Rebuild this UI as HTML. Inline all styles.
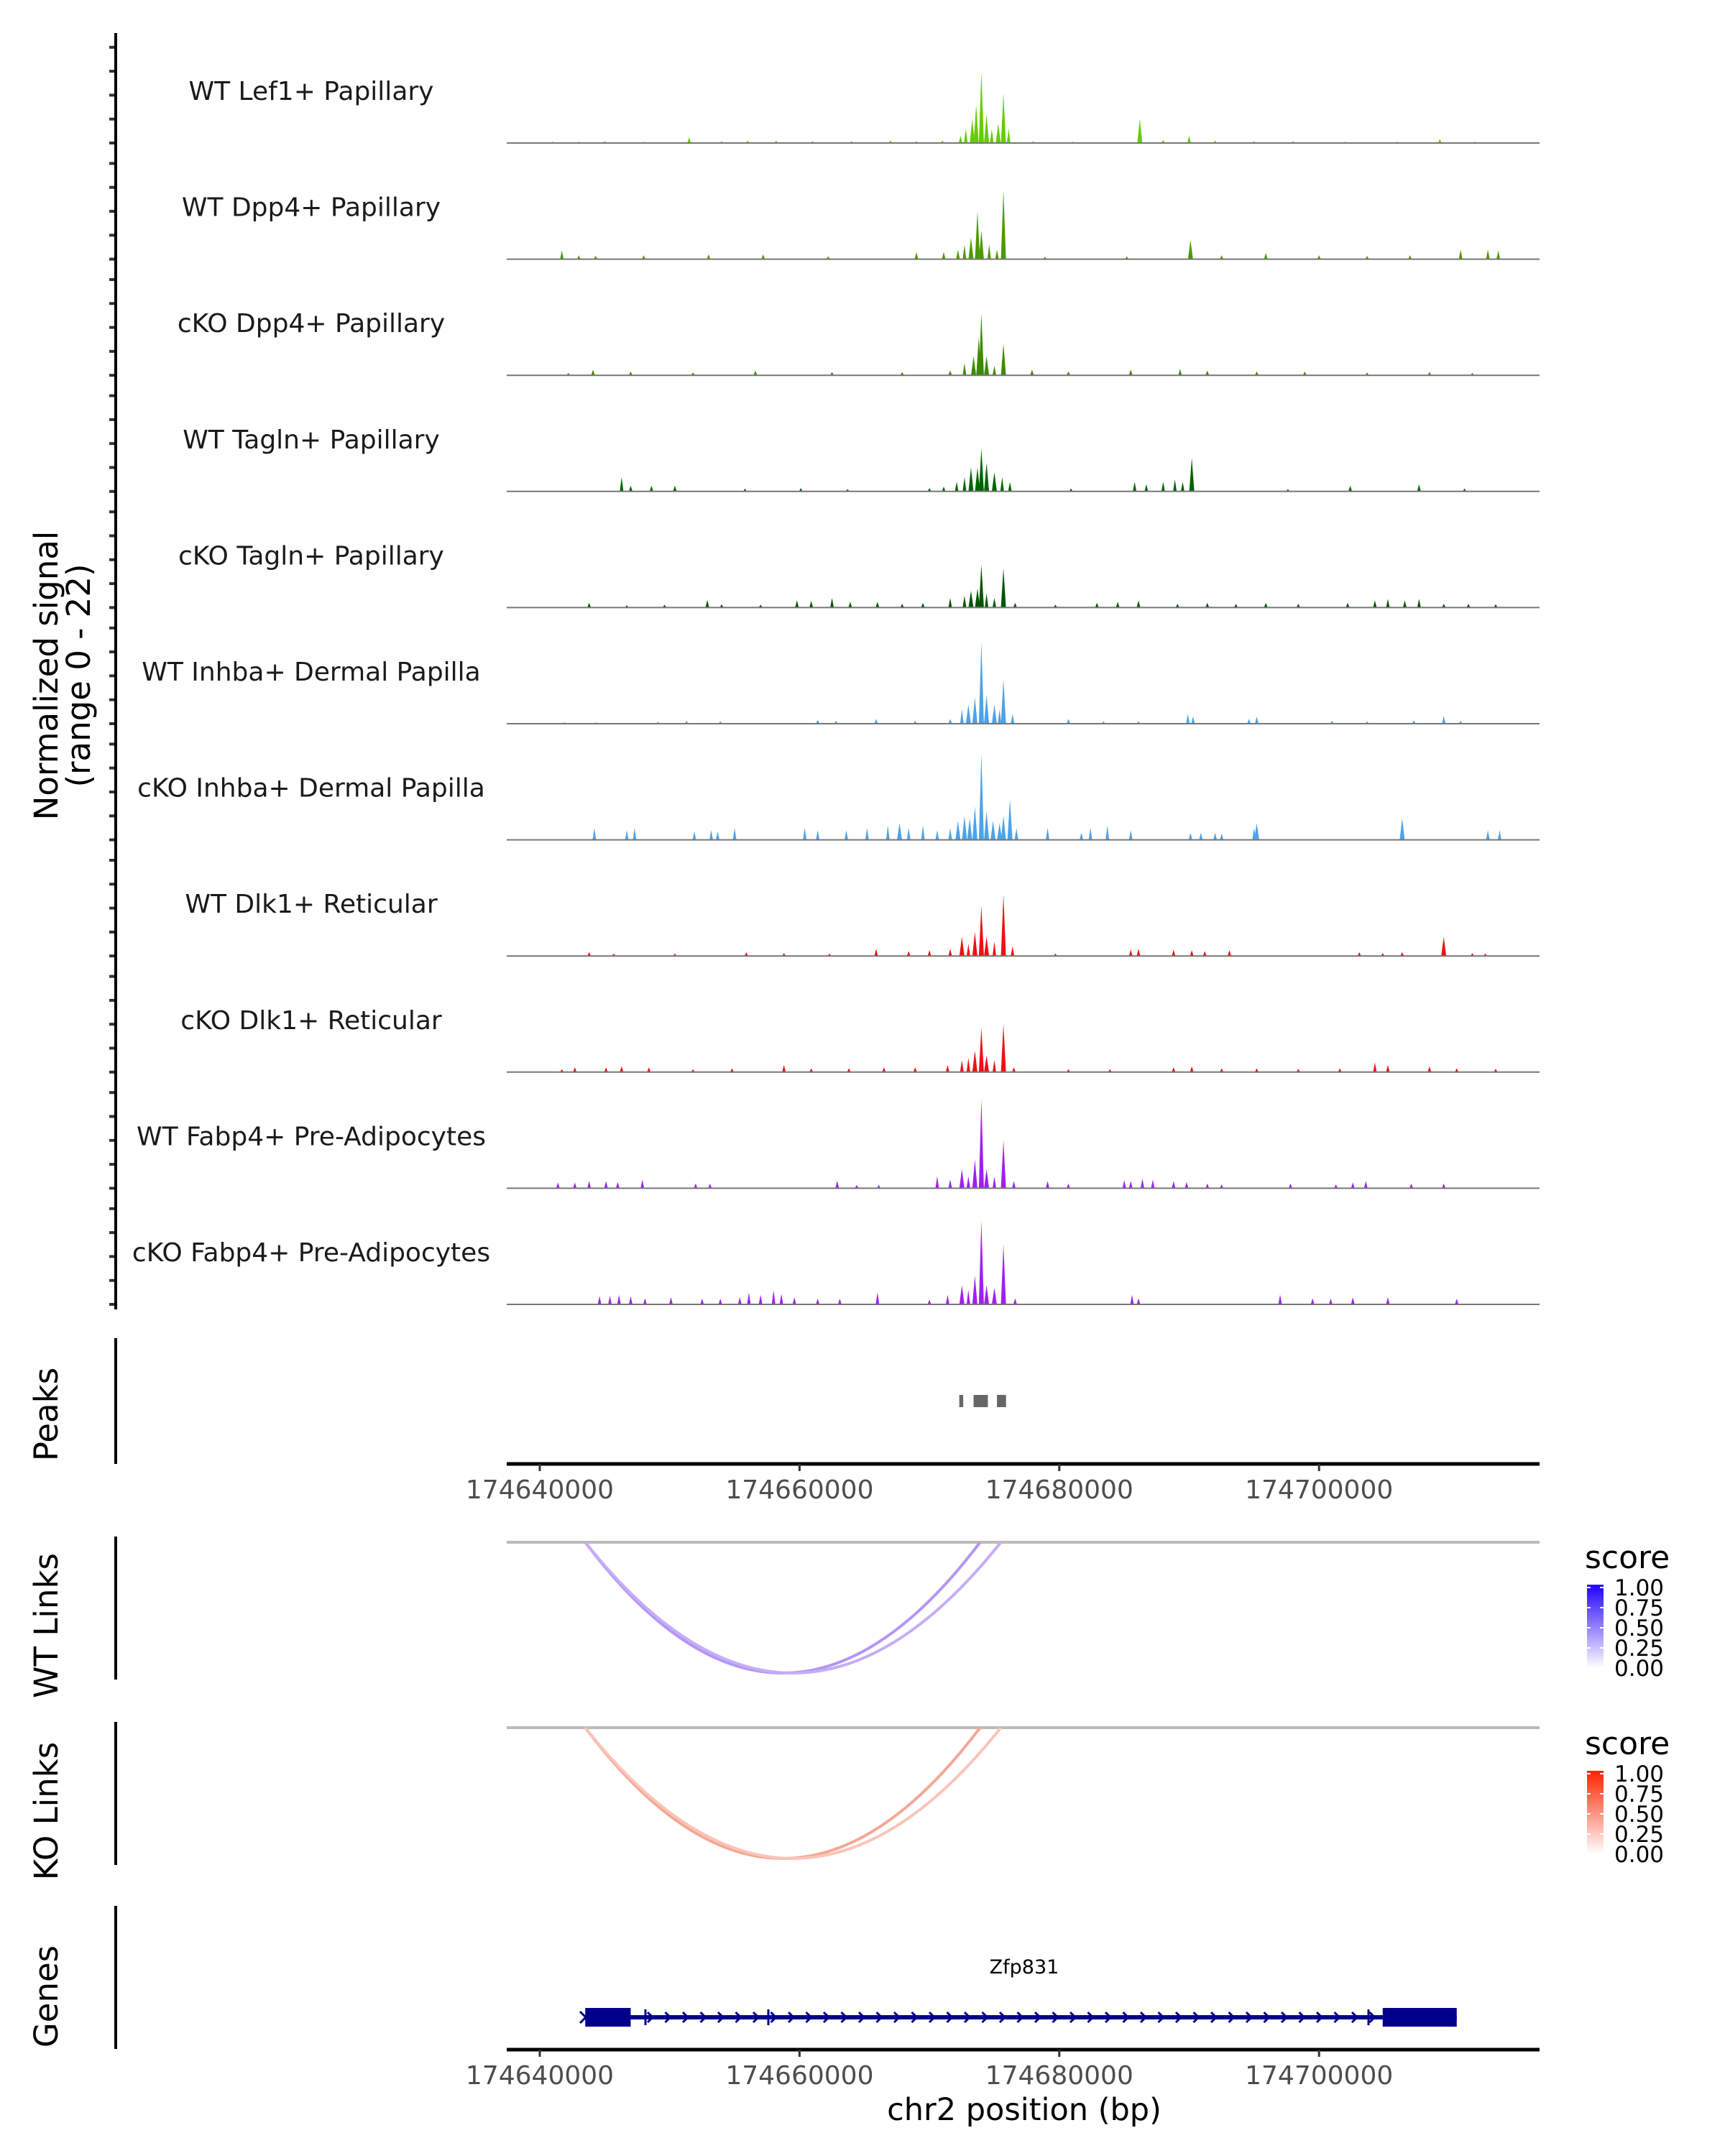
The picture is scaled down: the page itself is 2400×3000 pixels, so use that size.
<!DOCTYPE html>
<html><head><meta charset="utf-8"><style>
html,body{margin:0;padding:0;background:#fff}
svg{display:block;font-family:"DejaVu Sans","Liberation Sans",sans-serif}
</style></head><body>
<svg id="chart" width="2400" height="3000" viewBox="0 0 2400 3000" xmlns="http://www.w3.org/2000/svg">
<g id="tracks"></g>
<g id="axes"></g>
</svg>
<script>
// ---- data (positions in kb from 174,640,000; values in normalized signal 0-22) ----
const trackNames = ["WT Lef1+ Papillary","WT Dpp4+ Papillary","cKO Dpp4+ Papillary","WT Tagln+ Papillary","cKO Tagln+ Papillary","WT Inhba+ Dermal Papilla","cKO Inhba+ Dermal Papilla","WT Dlk1+ Reticular","cKO Dlk1+ Reticular","WT Fabp4+ Pre-Adipocytes","cKO Fabp4+ Pre-Adipocytes"];
const trackColors = ["#66cc00","#4c9a00","#3d8a00","#006400","#005500","#4da3e8","#4da3e8","#ee1111","#ee1111","#a020f0","#a020f0"];
const t1 = [[1,0.3],[3,0.3],[5,0.4],[8,0.3],[11.5,1.2],[14,0.4],[16,0.5],[18.2,0.5],[21,0.4],[24,0.4],[27,0.5],[29,0.4],[31,0.5],[32.4,1.5],[32.8,3],[33.3,5],[33.6,8],[34,15],[34.4,6],[34.8,3],[35.3,4],[35.7,10.4],[36.1,3],[38,0.4],[41,0.3],[46.2,5],[48,0.6],[50,1.5],[52,0.5],[55,0.4],[58,0.4],[62,0.3],[66,0.3],[69.3,0.8],[72,0.3]];
const t2 = [[1.7,1.8],[3,0.8],[4.3,0.7],[8,0.8],[13,1],[17.2,1],[22.2,0.6],[29,1.5],[31.1,1.5],[32.2,2],[32.7,3],[33.2,4.5],[33.7,10],[34,6],[34.6,3],[35.2,2],[35.7,14.4],[38.9,0.5],[45.2,0.6],[50.1,4],[52.5,0.8],[55.9,1.3],[60,0.8],[63.7,0.7],[67,0.8],[70.9,2],[73,2],[73.8,1.8]];
const t3 = [[2.2,0.5],[4.1,1.2],[7,0.8],[11.8,0.6],[16.6,1],[22.5,0.7],[27.9,0.7],[31.6,1],[32.7,2.5],[33.4,4],[33.8,8],[34,13],[34.4,4],[35,2],[35.7,6.6],[37.9,1.2],[40.7,0.8],[45.5,1.2],[49.3,1.3],[51.4,1],[55.2,0.8],[58.9,0.8],[63.7,0.6],[68.5,0.7],[71.8,0.5]];
const t4 = [[6.3,3],[7,1.2],[8.6,1.2],[10.4,1.2],[15.8,0.6],[20.1,0.7],[23.7,0.5],[30,0.7],[31.1,1],[32.1,2],[32.7,3],[33.2,5],[33.7,5],[34,9],[34.4,6],[35,4],[35.6,3],[36.2,2],[40.9,0.6],[45.8,2],[46.7,1.5],[48,2],[48.9,2.5],[49.5,2],[50.2,7],[57.6,0.5],[62.4,1.2],[67.7,1.5],[71.2,0.6]];
const t5 = [[3.8,1],[6.7,0.5],[9.6,0.6],[12.9,1.6],[14,0.7],[17,0.6],[19.8,1.5],[20.9,1.4],[22.5,2],[23.9,1.2],[26,1.2],[27.9,0.8],[29.5,1],[31.6,2],[32.7,2.5],[33.2,3.5],[33.7,4],[34,9],[34.4,3],[35,2],[35.7,8.2],[36.6,1],[39.7,0.6],[42.9,1],[44.5,1.2],[46.1,1.5],[49.1,0.8],[51.4,1],[53.6,0.8],[55.9,1],[58.4,0.8],[62.2,1],[64.3,1.5],[65.3,1.8],[66.6,1.5],[67.7,1.8],[69.6,0.8],[71.5,0.8],[73.6,0.7]];
const t6 = [[1.9,0.3],[4.3,0.3],[9.1,0.4],[11.3,0.6],[13.9,0.5],[21.4,0.8],[22.8,0.6],[25.9,1],[28.9,0.6],[31.6,1],[32.5,3],[33,4],[33.5,5.5],[34,17],[34.4,6],[35,4],[35.4,3],[35.7,9.3],[36.4,2],[40.7,1],[43.4,0.5],[46.1,0.5],[49.9,2],[50.3,1.5],[54.6,1],[55.2,1.5],[61,0.6],[63.7,0.5],[67.3,0.7],[69.6,1.6],[70.9,0.6]];
const t7 = [[4.2,2.5],[6.7,2],[7.3,2.5],[11.9,1.8],[13.2,2],[13.7,1.8],[15,2.5],[20.4,2.5],[21.4,2],[23.6,2],[25.2,2.5],[26.8,3],[27.7,3.5],[28.4,2.5],[29.5,3],[30.6,2],[31.6,2.5],[32.2,4],[32.7,5],[33.1,4.5],[33.5,7],[34,18],[34.4,6],[34.9,4],[35.4,3.5],[35.7,5],[36.2,8.5],[36.7,2.5],[39.1,2.5],[41.7,1.5],[42.4,2.5],[43.7,3],[45.5,2],[50.1,1.5],[50.9,1.5],[52,1.5],[52.5,1.3],[55,2.5],[55.2,3.5],[66.4,4.5],[73,2],[73.9,2]];
const t8 = [[3.8,0.8],[5.7,0.5],[10.4,0.5],[15.9,0.8],[18.8,0.6],[22.3,0.5],[25.9,1.5],[28.4,1],[30,1.2],[31.6,1.5],[32.5,4],[33,2.5],[33.5,5],[34,10.5],[34.4,4],[35,3],[35.7,12.8],[36.4,2],[39.7,0.5],[45.5,1.3],[46.1,1.5],[48.8,1.3],[50.2,1.2],[51.2,1],[53.1,1.2],[63.1,0.8],[64.9,0.6],[66.4,0.8],[69.6,4],[71.8,0.6],[72.8,0.5]];
const t9 = [[1.7,0.6],[2.7,1],[5.1,1],[6.3,1.2],[8.4,1],[11.8,0.6],[14.8,0.8],[18.8,1.5],[20.9,0.8],[23.8,0.8],[26.5,1],[28.9,1],[31.4,1.5],[32.5,2.5],[33,3],[33.5,4.5],[34,9.3],[34.4,3.5],[35,2.5],[35.7,10],[36.5,1],[40.7,0.6],[43.9,0.6],[48.8,1],[50.2,1.2],[52.5,0.8],[55.2,0.8],[58.4,0.7],[61.6,0.8],[64.3,2],[65.3,1.5],[68.5,1.2],[70.6,0.8],[73.6,0.7]];
const t10 = [[1.4,1.2],[2.7,1.2],[3.8,1.5],[5.1,1.5],[6,1.3],[7.9,1.8],[12,1],[13.1,1],[22.9,1.6],[24.4,0.7],[26.1,0.7],[30.6,2.5],[31.6,1.8],[32.5,4],[33,2.5],[33.5,6],[34,18.6],[34.4,4],[35,2.5],[35.7,10],[36.5,1.5],[39.1,1.5],[40.7,1],[45,1.7],[45.5,1.5],[46.4,2],[47.2,1.8],[48.8,1.5],[49.8,1.3],[51.4,1],[52.5,0.8],[57.8,1],[61.3,0.8],[62.6,1.2],[63.6,1.5],[67.1,1],[69.6,1]];
const t11 = [[4.6,1.7],[5.4,1.8],[6.1,2],[7,1.7],[8.1,1.3],[10.1,1.5],[12.5,1.2],[13.9,1.2],[15.4,1.5],[16.1,2.5],[17,2],[18,3],[18.6,2.2],[19.6,1.5],[21.4,1.2],[23.1,1.2],[26,2.5],[30,1],[31.4,2],[32.5,4],[33,3],[33.5,6],[34,17.5],[34.4,4],[35,3.5],[35.7,12.5],[36.6,1.3],[45.6,2],[46.1,1.3],[57,2],[59.5,1.3],[60.9,1.2],[62.6,1.5],[65.3,1.5],[70.6,1.2]];
const trackData = [t1,t2,t3,t4,t5,t6,t7,t8,t9,t10,t11];
const yTicks = [0,5,10,15,20];
const xTickKb = [0,20,40,60];
const xTickLabels = ["174640000","174660000","174680000","174700000"];
const peakStarts = [32.3,33.4,35.2];
const peakEnds = [32.6,34.5,35.9];
const linkStarts = [3.5,3.5];
const linkEnds = [33.9,35.5];
const wtLinkScores = [0.45,0.35];
const koLinkScores = [0.45,0.3];
const exonStarts = [3.5,64.9];
const exonEnds = [7.0,70.6];
const geneStart = 3.5, geneEnd = 70.6;

// ---- scales ----
const X0 = 751, PXKB = 18.07;
const xs = kb => X0 + kb * PXKB;
const BASE0 = 199, TSTEP = 161.6, PXV = 6.66;
const ys = (i, v) => BASE0 + i * TSTEP - v * PXV;
const NS = "http://www.w3.org/2000/svg";
function mk(tag, attrs, parent, text) {
  const e = document.createElementNS(NS, tag);
  for (const k in attrs) e.setAttribute(k, attrs[k]);
  if (text !== undefined) e.textContent = text;
  parent.appendChild(e);
  return e;
}
const tracks = document.getElementById("tracks");
const axes = document.getElementById("axes");
const AX_L = 705, AX_R = 2142;

trackData.forEach((arr, i) => {
  const g = mk("g", {}, tracks);
  
  
  const base = ys(i, 0);
  arr.forEach(([kb, v]) => {
    const x = xs(kb), w = v > 3 ? 3.5 : 2.5;
    const p = mk("polygon", {points: `${x-w},${base} ${x},${ys(i, v)} ${x+w},${base}`, fill: trackColors[i]}, g);
    
    
  });
  const bl = mk("line", {x1: AX_L, x2: AX_R, y1: base, y2: base, stroke: "#777", "stroke-width": 2}, g);
  
  
  const lab = mk("text", {x: 433, y: base - 60, "text-anchor": "middle", "font-size": 36, fill: "#1a1a1a"}, g, trackNames[i]);
  
  
  yTicks.forEach(t => {
    const tk = mk("line", {x1: 152, x2: 160, y1: ys(i, t), y2: ys(i, t), stroke: "#333", "stroke-width": 4}, g);
    
    
  });
});

const axSpans = [[46,1822],[1862,2037],[2138,2337],[2396,2595],[2652,2851]];
axSpans.forEach(([a,b]) => {
  const l = mk("line", {x1: 161, x2: 161, y1: a, y2: b, stroke: "#000", "stroke-width": 4}, axes);
  
  
});

function rotText(x, y, txt, name) {
  const t = mk("text", {x: x, y: y, transform: `rotate(-90 ${x} ${y})`, "text-anchor": "middle", "font-size": 45, fill: "#000"}, axes, txt);
  
  
}
rotText(80, 940, "Normalized signal", "y-axis-title");
rotText(125, 940, "(range 0 - 22)", "y-axis-range");
rotText(80, 1968, "Peaks", "peaks-title");
rotText(80, 2262, "WT Links", "wt-links-title");
rotText(80, 2520, "KO Links", "ko-links-title");
rotText(80, 2778, "Genes", "genes-title");

peakStarts.forEach((s, i) => {
  const r = mk("rect", {x: xs(s), y: 1941, width: xs(peakEnds[i]) - xs(s), height: 17, fill: "#666"}, axes);
  
  
});

function xAxis(y, name) {
  const g = mk("g", {}, axes);
  
  
  mk("line", {x1: AX_L, x2: AX_R, y1: y, y2: y, stroke: "#000", "stroke-width": 5}, g);
  xTickKb.forEach((kb, i) => {
    mk("line", {x1: xs(kb), x2: xs(kb), y1: y, y2: y + 10, stroke: "#333", "stroke-width": 3}, g);
    const t = mk("text", {x: xs(kb), y: y + 48, "text-anchor": "middle", "font-size": 36, fill: "#4d4d4d"}, g, xTickLabels[i]);
    
    
  });
}
xAxis(2037, "peaks-x-axis");
xAxis(2852, "genes-x-axis");
const xt = mk("text", {x: 1425, y: 2950, "text-anchor": "middle", "font-size": 43, fill: "#000"}, axes, "chr2 position (bp)");



function links(y0, scores, lo, hi, name) {
  const g = mk("g", {}, axes);
  
  
  mk("line", {x1: AX_L, x2: AX_R, y1: y0, y2: y0, stroke: "#bbb", "stroke-width": 4}, g);
  const depth = 182;
  scores.forEach((s, i) => {
    const x1 = xs(linkStarts[i]), x2 = xs(linkEnds[i]);
    const c = [0,1,2].map(k => Math.round(lo[k] + (hi[k] - lo[k]) * s));
    const p = mk("path", {d: `M${x1},${y0} Q${(x1+x2)/2},${y0+depth*2} ${x2},${y0}`, fill: "none", stroke: `rgb(${c})`, "stroke-width": 4}, g);
    
    
  });
}
links(2146, wtLinkScores, [255,255,255], [90,20,235], "wt-links");
links(2404, koLinkScores, [255,255,255], [235,60,20], "ko-links");

function legend(y, top, colTop, name) {
  const g = mk("g", {}, axes);
  
  
  mk("text", {x: 2205, y: y, "font-size": 44, fill: "#000"}, g, "score");
  const id = name + "-grad";
  const d = mk("defs", {}, g);
  const lg = mk("linearGradient", {id: id, x1: 0, y1: 1, x2: 0, y2: 0}, d);
  mk("stop", {offset: 0, "stop-color": "#fff"}, lg);
  mk("stop", {offset: 1, "stop-color": colTop}, lg);
  mk("rect", {x: 2208, y: top, width: 23, height: 116, fill: `url(#${id})`}, g);
  ["1.00","0.75","0.50","0.25","0.00"].forEach((l, i) => {
    const yy = top + 4 + i * 28;
    mk("line", {x1: 2208, x2: 2213, y1: yy, y2: yy, stroke: "#fff", "stroke-width": 2}, g);
    mk("line", {x1: 2226, x2: 2231, y1: yy, y2: yy, stroke: "#fff", "stroke-width": 2}, g);
    mk("text", {x: 2246, y: yy + 11, "font-size": 31, fill: "#000"}, g, l);
  });
}
legend(2182, 2205, "#2200ff", "wt-score-legend");
legend(2441, 2464, "#ff2200", "ko-score-legend");

const gg = mk("g", {}, axes);


mk("line", {x1: xs(geneStart), x2: xs(geneEnd), y1: 2807, y2: 2807, stroke: "#00008b", "stroke-width": 6}, gg);
exonStarts.forEach((s, i) => {
  mk("rect", {x: xs(s), y: 2794, width: xs(exonEnds[i]) - xs(s), height: 26, fill: "#00008b"}, gg);
});
for (let x = 905; x < 1910; x += 24.5) {
  mk("path", {d: `M${x-4},${2800} L${x+3},${2807} L${x-4},${2814}`, fill: "none", stroke: "#00008b", "stroke-width": 3}, gg);
}
[898,1069,1904].forEach(x => mk("line", {x1: x, x2: x, y1: 2796, y2: 2818, stroke: "#00008b", "stroke-width": 3}, gg));
mk("path", {d: `M807,2799 L815,2807 L807,2815`, fill: "none", stroke: "#00008b", "stroke-width": 3}, gg);
const gl = mk("text", {x: 1425, y: 2746, "text-anchor": "middle", "font-size": 27, fill: "#000"}, gg, "Zfp831");


</script>
</body></html>
